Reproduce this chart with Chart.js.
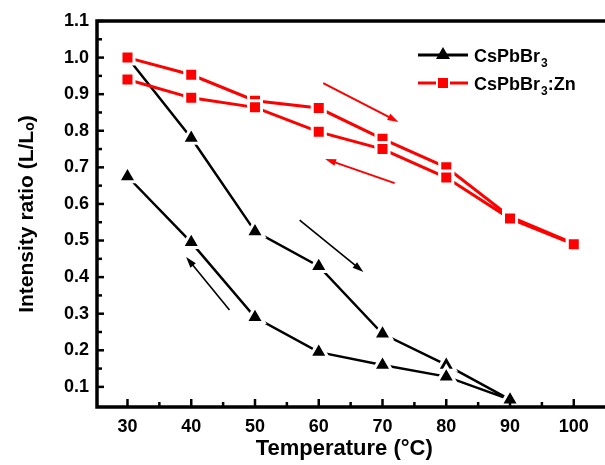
<!doctype html>
<html lang="en">
<head>
<meta charset="UTF-8" />
<title>Intensity ratio vs temperature</title>
<script src="https://cdn.jsdelivr.net/npm/chart.js"></script>
<style>
  html, body { margin: 0; padding: 0; background: #fff; }
  #wrap { width: 605px; height: 465px; }
</style>
</head>
<body>
<div id="wrap"><canvas id="ratioChart" width="605" height="465"></canvas></div>
<script>
// CsPbBr3: heating 30 -> 90, then cooling 90 -> 30
const heatTemps = [30, 40, 50, 60, 70, 80, 90];
const pureHeating = [1.0, 0.78, 0.525, 0.43, 0.245, 0.16, 0.065];
const coolTemps = [80, 70, 60, 50, 40, 30];
const pureCooling = [0.128, 0.16, 0.195, 0.29, 0.495, 0.675];

// CsPbBr3:Zn: heating 30 -> 100, then cooling 100 -> 30
const znHeatTemps = [30, 40, 50, 60, 70, 80, 90, 100];
const znHeating = [1.0, 0.953, 0.882, 0.862, 0.778, 0.70, 0.565, 0.492];
const znCoolTemps = [100, 90, 80, 70, 60, 50, 40, 30];
const znCooling = [0.49, 0.56, 0.672, 0.75, 0.797, 0.864, 0.89, 0.94];

const xMajor = [30, 40, 50, 60, 70, 80, 90, 100];
const yMajor = [0.1, 0.2, 0.3, 0.4, 0.5, 0.6, 0.7, 0.8, 0.9, 1.0, 1.1];

// direction arrows, [x0, y0, x1, y1] in data units
const pureArrows = [[57, 0.556, 67, 0.414], [46, 0.31, 39.2, 0.455]];
const znArrows = [[60.7, 0.93, 72.5, 0.824], [71.9, 0.657, 61.0, 0.723]];

const FONT = "'Liberation Sans', Arial, sans-serif";

function loop(t1, v1, t2, v2) {
  const pts = t1.map((t, i) => ({ x: t, y: v1[i] }));
  return pts.concat(t2.map((t, i) => ({ x: t, y: v2[i] })));
}

function withMinors(major) {
  const out = [];
  major.forEach((v, i) => {
    out.push({ value: v, major: true });
    if (i < major.length - 1) out.push({ value: (v + major[i + 1]) / 2, major: false });
  });
  return out;
}

function arrow(ctx, x0, y0, x1, y1, color, w) {
  const ang = Math.atan2(y1 - y0, x1 - x0);
  const head = 11, half = 3.5;
  ctx.strokeStyle = color;
  ctx.fillStyle = color;
  ctx.lineWidth = w;
  ctx.beginPath();
  ctx.moveTo(x0, y0);
  ctx.lineTo(x1 - Math.cos(ang) * head * 0.8, y1 - Math.sin(ang) * head * 0.8);
  ctx.stroke();
  ctx.beginPath();
  ctx.moveTo(x1, y1);
  ctx.lineTo(x1 - Math.cos(ang) * head - Math.sin(ang) * half, y1 - Math.sin(ang) * head + Math.cos(ang) * half);
  ctx.lineTo(x1 - Math.cos(ang) * head + Math.sin(ang) * half, y1 - Math.sin(ang) * head - Math.cos(ang) * half);
  ctx.closePath();
  ctx.fill();
}

const frame = {
  id: 'frame',
  afterDatasetsDraw(chart) {
    const { ctx, chartArea: a, scales: { x, y } } = chart;
    ctx.save();

    pureArrows.forEach(r => arrow(ctx, x.getPixelForValue(r[0]), y.getPixelForValue(r[1]),
      x.getPixelForValue(r[2]), y.getPixelForValue(r[3]), '#000', 1.6));
    znArrows.forEach(r => arrow(ctx, x.getPixelForValue(r[0]), y.getPixelForValue(r[1]),
      x.getPixelForValue(r[2]), y.getPixelForValue(r[3]), '#ff0000', 2));

    // axes box (right side is cut off by the image edge)
    ctx.strokeStyle = '#000';
    ctx.lineWidth = 3.5;
    ctx.lineCap = 'square';
    ctx.beginPath();
    ctx.moveTo(chart.width + 2, a.top);
    ctx.lineTo(a.left, a.top);
    ctx.lineTo(a.left, a.bottom);
    ctx.lineTo(chart.width + 2, a.bottom);
    ctx.stroke();

    // inward ticks
    ctx.lineWidth = 2.5;
    ctx.lineCap = 'butt';
    x.ticks.forEach(t => {
      const px = x.getPixelForValue(t.value);
      const len = t.major ? 8 : 5;
      ctx.beginPath();
      ctx.moveTo(px, a.bottom);
      ctx.lineTo(px, a.bottom - len);
      ctx.stroke();
    });
    y.ticks.forEach(t => {
      const py = y.getPixelForValue(t.value);
      const len = t.major ? 7 : 5;
      ctx.beginPath();
      ctx.moveTo(a.left, py);
      ctx.lineTo(a.left + len, py);
      ctx.stroke();
    });

    // legend
    const lx = a.left + 321, ly = 55;
    const entries = [
      { color: '#000', style: 'triangle', suffix: '' },
      { color: '#ff0000', style: 'rect', suffix: ':Zn' }
    ];
    entries.forEach((e, i) => {
      const yy = ly + i * 28;
      ctx.strokeStyle = e.color;
      ctx.fillStyle = e.color;
      ctx.lineWidth = 3;
      ctx.beginPath();
      ctx.moveTo(lx, yy);
      ctx.lineTo(lx + 50, yy);
      ctx.stroke();
      ctx.strokeStyle = '#fff';
      ctx.lineWidth = 2;
      if (e.style === 'triangle') {
        ctx.beginPath();
        ctx.moveTo(lx + 25, yy - 8);
        ctx.lineTo(lx + 32, yy + 4);
        ctx.lineTo(lx + 18, yy + 4);
        ctx.closePath();
        ctx.fill();
      } else {
        ctx.strokeRect(lx + 19, yy - 6, 12, 12);
        ctx.fillRect(lx + 20, yy - 5, 10, 10);
      }
      ctx.fillStyle = '#000';
      ctx.textBaseline = 'alphabetic';
      ctx.textAlign = 'left';
      let tx = lx + 56;
      ctx.font = 'bold 18px ' + FONT;
      ctx.fillText('CsPbBr', tx, yy + 7);
      tx += ctx.measureText('CsPbBr').width;
      ctx.font = 'bold 12px ' + FONT;
      ctx.fillText('3', tx + 1, yy + 12);
      tx += ctx.measureText('3').width + 1;
      if (e.suffix) {
        ctx.font = 'bold 18px ' + FONT;
        ctx.fillText(e.suffix, tx, yy + 7);
      }
    });
    ctx.restore();
  }
};

new Chart(document.getElementById('ratioChart'), {
  type: 'line',
  data: {
    datasets: [
      {
        label: 'CsPbBr3',
        data: loop(heatTemps, pureHeating, coolTemps, pureCooling),
        borderColor: '#000',
        borderWidth: 2.5,
        pointStyle: 'triangle',
        pointRadius: 10.5,
        pointBackgroundColor: '#000',
        pointBorderColor: '#fff',
        pointBorderWidth: 3,
        tension: 0,
        clip: false,
        order: 1
      },
      {
        label: 'CsPbBr3:Zn',
        data: loop(znHeatTemps, znHeating, znCoolTemps, znCooling),
        borderColor: '#ff0000',
        borderWidth: 3,
        pointStyle: 'rect',
        pointRadius: 9.2,
        pointBackgroundColor: '#ff0000',
        pointBorderColor: '#fff',
        pointBorderWidth: 3,
        tension: 0,
        clip: false,
        order: 0
      }
    ]
  },
  options: {
    responsive: false,
    animation: false,
    devicePixelRatio: 1,
    layout: { padding: { top: 21, right: 0, left: 0, bottom: 0 } },
    plugins: { legend: { display: false }, tooltip: { enabled: false } },
    scales: {
      x: {
        type: 'linear',
        min: 25.22,
        max: 102.78,
        grid: { display: false, drawTicks: false },
        border: { display: false },
        afterBuildTicks: s => { s.ticks = withMinors(xMajor); },
        afterFit: s => { s.height = 58; },
        ticks: {
          autoSkip: false,
          maxRotation: 0,
          padding: 9,
          color: '#000',
          font: { family: FONT, size: 18, weight: 'bold' },
          callback: (v, i, ticks) => ticks[i].major ? String(v) : ''
        },
        title: {
          display: true,
          text: 'Temperature (°C)',
          color: '#000',
          font: { family: FONT, size: 22, weight: 'bold' },
          padding: { top: 0, bottom: 3 }
        }
      },
      y: {
        min: 0.045,
        max: 1.1,
        grid: { display: false, drawTicks: false },
        border: { display: false },
        afterBuildTicks: s => { s.ticks = withMinors(yMajor); },
        afterFit: s => { s.width = 97; },
        ticks: {
          autoSkip: false,
          padding: 8,
          color: '#000',
          font: { family: FONT, size: 18, weight: 'bold' },
          callback: (v, i, ticks) => ticks[i].major ? v.toFixed(1) : ''
        },
        title: {
          display: true,
          text: 'Intensity ratio (L/Lₒ)',
          color: '#000',
          font: { family: FONT, size: 21, weight: 'bold' },
          padding: { top: 15, bottom: 0 }
        }
      }
    }
  },
  plugins: [frame]
});
</script>
</body>
</html>
